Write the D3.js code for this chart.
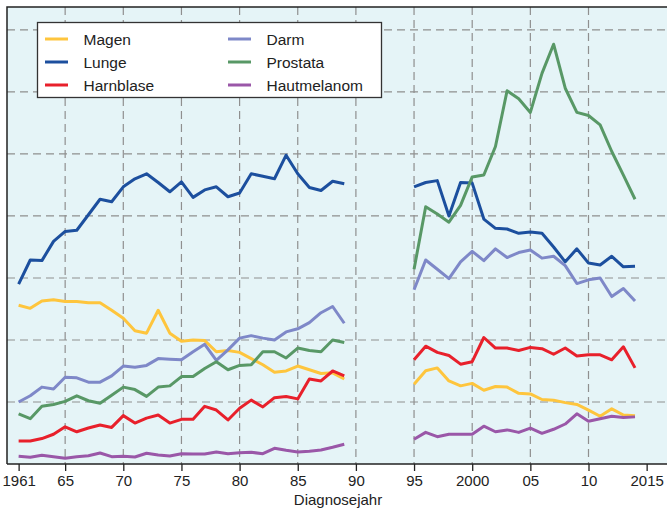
<!DOCTYPE html>
<html lang="de">
<head>
    <meta charset="UTF-8">
    <title>Diagnosejahr</title>
    <style>
        body{ margin:0; background:#fff; }
        svg{ display:block; font-family:"Liberation Sans", Arial, sans-serif; }
    </style>
</head>
<body>
<svg width="667" height="510"></svg>
<script src="https://d3js.org/d3.v7.min.js"></script>
<script>
// Jahre 1961-2014, Lücke 1990-1994 (null)
var jahre = d3.range(1961, 2015);
var luecke = [null, null, null, null, null];

var magen = [25.6,25.1,26.3,26.5,26.2,26.2,26.0,26.0,24.8,23.5,21.5,21.1,24.8,21.1,19.8,20.0,19.9,18.1,18.3,18.0,17.0,16.0,14.8,15.0,15.8,15.2,14.6,14.7,13.7]
    .concat(luecke, [12.85,15.05,15.5,13.4,12.6,13.0,11.9,12.5,12.4,11.4,11.3,10.4,10.3,9.9,9.6,8.7,7.7,8.9,7.9,7.8]);
var lunge = [29.0,32.9,32.8,35.9,37.5,37.7,40.2,42.7,42.3,44.7,46.0,46.8,45.4,43.9,45.5,43.0,44.2,44.7,43.1,43.7,46.8,46.4,46.0,49.8,46.8,44.6,44.1,45.6,45.2]
    .concat(luecke, [44.7,45.4,45.7,40.0,45.4,45.3,39.5,38.0,37.9,37.2,37.4,37.2,35.0,32.6,34.7,32.4,32.1,33.5,31.8,31.9]);
var harnblase = [3.7,3.7,4.1,4.8,6.0,5.2,5.8,6.3,5.9,7.8,6.6,7.4,7.9,6.6,7.2,7.2,9.3,8.7,7.1,9.0,10.3,9.2,10.7,10.9,10.5,13.7,13.4,15.0,14.2]
    .concat(luecke, [16.8,19.0,18.0,17.5,16.1,16.5,20.4,18.7,18.7,18.3,18.8,18.6,17.7,18.7,17.4,17.6,17.6,16.8,18.9,15.5]);
var darm = [10.0,11.0,12.4,12.1,14.0,13.9,13.2,13.2,14.2,15.8,15.6,15.9,17.0,16.9,16.8,18.1,19.3,16.7,18.4,20.3,20.7,20.3,20.0,21.3,21.8,22.8,24.4,25.4,22.7]
    .concat(luecke, [28.1,32.9,31.4,29.9,32.6,34.3,32.8,34.7,33.3,34.1,34.5,33.2,33.5,32.0,29.1,29.7,30.0,27.0,28.3,26.3]);
var prostata = [8.1,7.3,9.3,9.6,10.1,11.0,10.2,9.8,11.1,12.4,12.0,10.9,12.4,12.6,14.1,14.1,15.4,16.5,15.2,15.9,16.0,18.1,18.1,17.1,18.7,18.3,18.1,20.0,19.6]
    .concat(luecke, [31.4,41.5,40.3,39.0,41.7,46.3,46.6,51.2,60.2,58.9,56.7,63.0,67.7,60.6,56.7,56.2,54.7,50.4,46.6,42.7]);
var hautmelanom = [1.24,1.08,1.4,1.18,0.92,1.18,1.34,1.77,1.18,1.24,1.13,1.73,1.45,1.29,1.66,1.61,1.61,1.94,1.66,1.82,1.89,1.66,2.53,2.21,1.94,2.05,2.26,2.69,3.18]
    .concat(luecke, [3.98,5.1,4.4,4.8,4.8,4.8,6.1,5.2,5.5,5.1,5.8,4.95,5.6,6.45,8.1,6.9,7.3,7.7,7.5,7.6]);

var xTicks = [1961,1965,1970,1975,1980,1985,1990,1995,2000,2005,2010,2015];
var xTickLabels = ["1961","65","70","75","80","85","90","95","2000","05","10","2015"];
var xGrid = [1965,1970,1975,1980,1985,1990,1995,2000,2005,2010];
var yGrid = [10,20,30,40,50,60,70];

var serien = [
    {name:"Magen", werte:magen, farbe:"#fec53d"},
    {name:"Lunge", werte:lunge, farbe:"#1c4f9e"},
    {name:"Harnblase", werte:harnblase, farbe:"#e8202b"},
    {name:"Darm", werte:darm, farbe:"#7e88c8"},
    {name:"Prostata", werte:prostata, farbe:"#589866"},
    {name:"Hautmelanom", werte:hautmelanom, farbe:"#9a57a8"}
];

var svg = d3.select("svg");
var L = 7, R = 667, T = 7, B = 464;

var x = d3.scaleLinear().domain([1960, 2016.75]).range([L, R]);
var y = d3.scaleLinear().domain([0, 73.7]).range([B, T]);

// Hintergrund
svg.append("rect").attr("x", L).attr("y", T).attr("width", R - L).attr("height", B - T).attr("fill", "#e5f4f7");

// Gitter
var grid = svg.append("g").attr("stroke", "#8f8f8f").attr("stroke-width", 1.2).attr("stroke-dasharray", "8,5");
grid.selectAll("line.h").data(yGrid).enter().append("line")
    .attr("x1", L).attr("x2", R).attr("y1", function(d){ return y(d); }).attr("y2", function(d){ return y(d); });
grid.selectAll("line.v").data(xGrid).enter().append("line")
    .attr("y1", T).attr("y2", B).attr("x1", function(d){ return x(d); }).attr("x2", function(d){ return x(d); });

// Linien
var line = d3.line()
    .defined(function(d){ return d.v != null; })
    .x(function(d){ return x(d.j); })
    .y(function(d){ return y(d.v); });

serien.forEach(function(s){
    var pts = jahre.map(function(j, i){ return {j:j, v:s.werte[i]}; });
    svg.append("path").attr("d", line(pts)).attr("fill", "none")
        .attr("stroke", s.farbe).attr("stroke-width", 3).attr("stroke-linejoin", "round");
});

// Rahmen
svg.append("path").attr("d", "M" + L + "," + B + "V" + T + "H" + R)
    .attr("fill", "none").attr("stroke", "#222").attr("stroke-width", 1.5);

// x-Achse
var xAxis = d3.axisBottom(x).tickValues(xTicks).tickSize(7).tickSizeOuter(0)
    .tickFormat(function(d, i){ return xTickLabels[i]; });
var gx = svg.append("g").attr("transform", "translate(0," + B + ")").call(xAxis);
gx.select(".domain").attr("stroke", "#222").attr("stroke-width", 1.5).attr("d", "M" + L + ",0H" + R);
gx.selectAll(".tick line").attr("stroke", "#222").attr("stroke-width", 1.3);
gx.selectAll(".tick text").attr("font-size", 15).attr("fill", "#222").attr("dy", "0.8em")
    .attr("font-family", "Liberation Sans, Arial, sans-serif");

svg.append("text").attr("x", (L + R) / 2 + 1).attr("y", 505).attr("text-anchor", "middle")
    .attr("font-size", 15).attr("fill", "#222").text("Diagnosejahr");

// Legende
var leg = svg.append("g");
leg.append("rect").attr("x", 37.5).attr("y", 22.5).attr("width", 344).attr("height", 75)
    .attr("fill", "#fff").attr("stroke", "#333").attr("stroke-width", 1.3);
serien.forEach(function(s, i){
    var col = Math.floor(i / 3), row = i % 3;
    var lx = col === 0 ? 45 : 228;
    var ly = 39 + row * 23;
    leg.append("line").attr("x1", lx).attr("x2", lx + 23).attr("y1", ly).attr("y2", ly)
        .attr("stroke", s.farbe).attr("stroke-width", 3);
    leg.append("text").attr("x", lx + 38.5).attr("y", ly + 5.5)
        .attr("font-size", 15.5).attr("fill", "#222").text(s.name);
});
</script>
</body>
</html>
